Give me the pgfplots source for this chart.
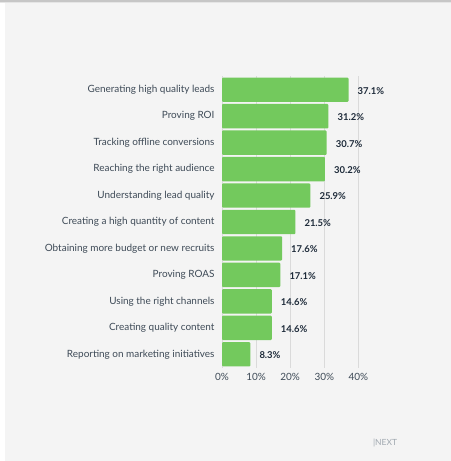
\documentclass[border=0pt]{standalone}
\usepackage{pgfplots}
\pgfplotsset{compat=1.18}
\usepackage{fontspec}
\setmainfont{Lato}
\definecolor{bgc}{HTML}{F4F4F4}
\definecolor{barc}{HTML}{73C95D}
\definecolor{labc}{HTML}{3E4A57}
\definecolor{valc}{HTML}{1E2B3A}
\definecolor{gridc}{HTML}{DADADA}
\definecolor{nextc}{HTML}{A0A8B0}
\begin{document}
\begin{tikzpicture}
\fill[bgc] (0,0) rectangle (451bp,461bp);
\fill[white] (0,0) rectangle (5bp,461bp);
\fill[gray!45] (0,459bp) rectangle (451bp,461bp);
\fill[gray!20] (0,457.5bp) rectangle (451bp,459bp);
\begin{axis}[
  at={(222bp,384.5bp)}, anchor=north west,
  scale only axis, width=136.4bp, height=291bp,
  xbar, bar width=24.4bp,
  xmin=0, xmax=40, ymin=-0.5, ymax=10.5,
  y dir=reverse,
  ytick={0,...,10},
  yticklabels={Generating high quality leads,Proving ROI,Tracking offline conversions,Reaching the right audience,Understanding lead quality,Creating a high quantity of content,Obtaining more budget or new recruits,Proving ROAS,Using the right channels,Creating quality content,Reporting on marketing initiatives},
  xtick={0,10,20,30,40},
  xticklabel={\pgfmathprintnumber{\tick}\%},
  /pgf/number format/assume math mode=true,
  xmajorgrids, grid style={gridc, line width=0.8bp},
  axis line style={draw=none},
  major tick length=0,
  tick label style={font=\fontsize{10}{12}\selectfont, text=labc},
  yticklabel style={anchor=east, xshift=-4bp},
  xticklabel style={yshift=-2bp},
  clip=false,
  nodes near coords={\pgfmathprintnumber[fixed,precision=1,fixed zerofill]{\pgfplotspointmeta}\%},
  nodes near coords style={font=\bfseries\fontsize{9.5}{11}\selectfont, text=valc, anchor=west, inner sep=0pt, xshift=9bp, yshift=-1bp},
]
\addplot[fill=barc, draw=none, rounded corners=1bp] coordinates {
(37.1,0) (31.2,1) (30.7,2) (30.2,3) (25.9,4) (21.5,5) (17.6,6) (17.1,7) (14.6,8) (14.6,9) (8.3,10)};
\end{axis}
\node[text=nextc, font=\fontsize{8.5}{10}\selectfont] at (385bp,18bp) {|NEXT};
\end{tikzpicture}
\end{document}
